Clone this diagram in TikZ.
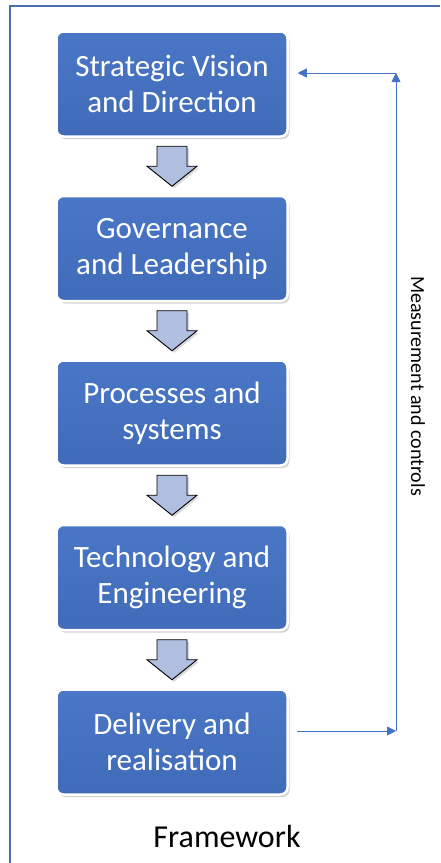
\documentclass[tikz,border=0pt]{standalone}
\usepackage{fontspec}
\setmainfont{Carlito}
\usetikzlibrary{positioning,calc,shadows,arrows.meta}

\definecolor{boxblue}{HTML}{4472C4}
\definecolor{framblue}{HTML}{4A6FAE}
\definecolor{stepblue}{HTML}{B0BEE0}

\tikzset{
  stage/.style={rectangle, rounded corners=7pt, minimum width=231pt, minimum height=105pt,
    top color=boxblue!97!white, bottom color=boxblue!94!black, draw=white, line width=2.5pt,
    text=white, align=center, font=\fontsize{31}{36}\selectfont,
    drop shadow={opacity=0.35, shadow xshift=2pt, shadow yshift=-2.5pt}},
  bigarrow/.style={draw=black, fill=stepblue, line width=0.9pt, line join=miter,
    drop shadow={opacity=0.3, shadow xshift=2pt, shadow yshift=-2pt}},
  conn/.style={draw=boxblue, line width=0.8pt, -{Triangle[length=9pt,width=9pt]}}
}

\begin{document}
\begin{tikzpicture}[x=1pt,y=1pt]
  \useasboundingbox (0,0) rectangle (440,-863);
  \fill[white] (0,0) rectangle (440,-863);
  % outer frame
  \draw[framblue, line width=2pt] (9.5,-863) -- (9.5,-5.5) -- (440,-5.5);

  % the five stages
  \node[stage] (vision) at (172,-84) {Strategic Vision\\and Direction};
  \node[stage, below=57pt of vision] (gov) {Governance\\and Leadership};
  \node[stage, below=57pt of gov] (proc) {Processes and\\systems};
  \node[stage, below=57pt of proc] (tech) {Technology and\\Engineering};
  \node[stage, below=57pt of tech] (deliv) {Delivery and\\realisation};

  % arrows between stages
  \foreach \up/\down [count=\i] in {vision/gov, gov/proc, proc/tech, tech/deliv} {
    \coordinate (mid\i) at ($(\up.south)!0.5!(\down.north)$);
    \draw[bigarrow] ($(mid\i)+(-15,20)$) -- ++(30,0) -- ++(0,-20) -- ++(10,0)
      -- ++(-25,-20) -- ++(-25,20) -- ++(10,0) -- cycle;
  }

  % feedback loop
  \coordinate (lowturn) at (396,-731);
  \coordinate (topturn) at (396,-73);
  \draw[conn, shorten <=8pt] (deliv.east |- lowturn) -- (lowturn);
  \draw[conn] (lowturn) -- (topturn);
  \draw[conn, shorten >=9pt] (topturn) -- (topturn -| vision.east);

  \node[rotate=-90, font=\fontsize{20}{24}\selectfont] (meas) at (418,-386) {Measurement and controls};
  \node[font=\fontsize{32}{38}\selectfont] (frame) at (227,-836) {Framework};
\end{tikzpicture}
\end{document}
